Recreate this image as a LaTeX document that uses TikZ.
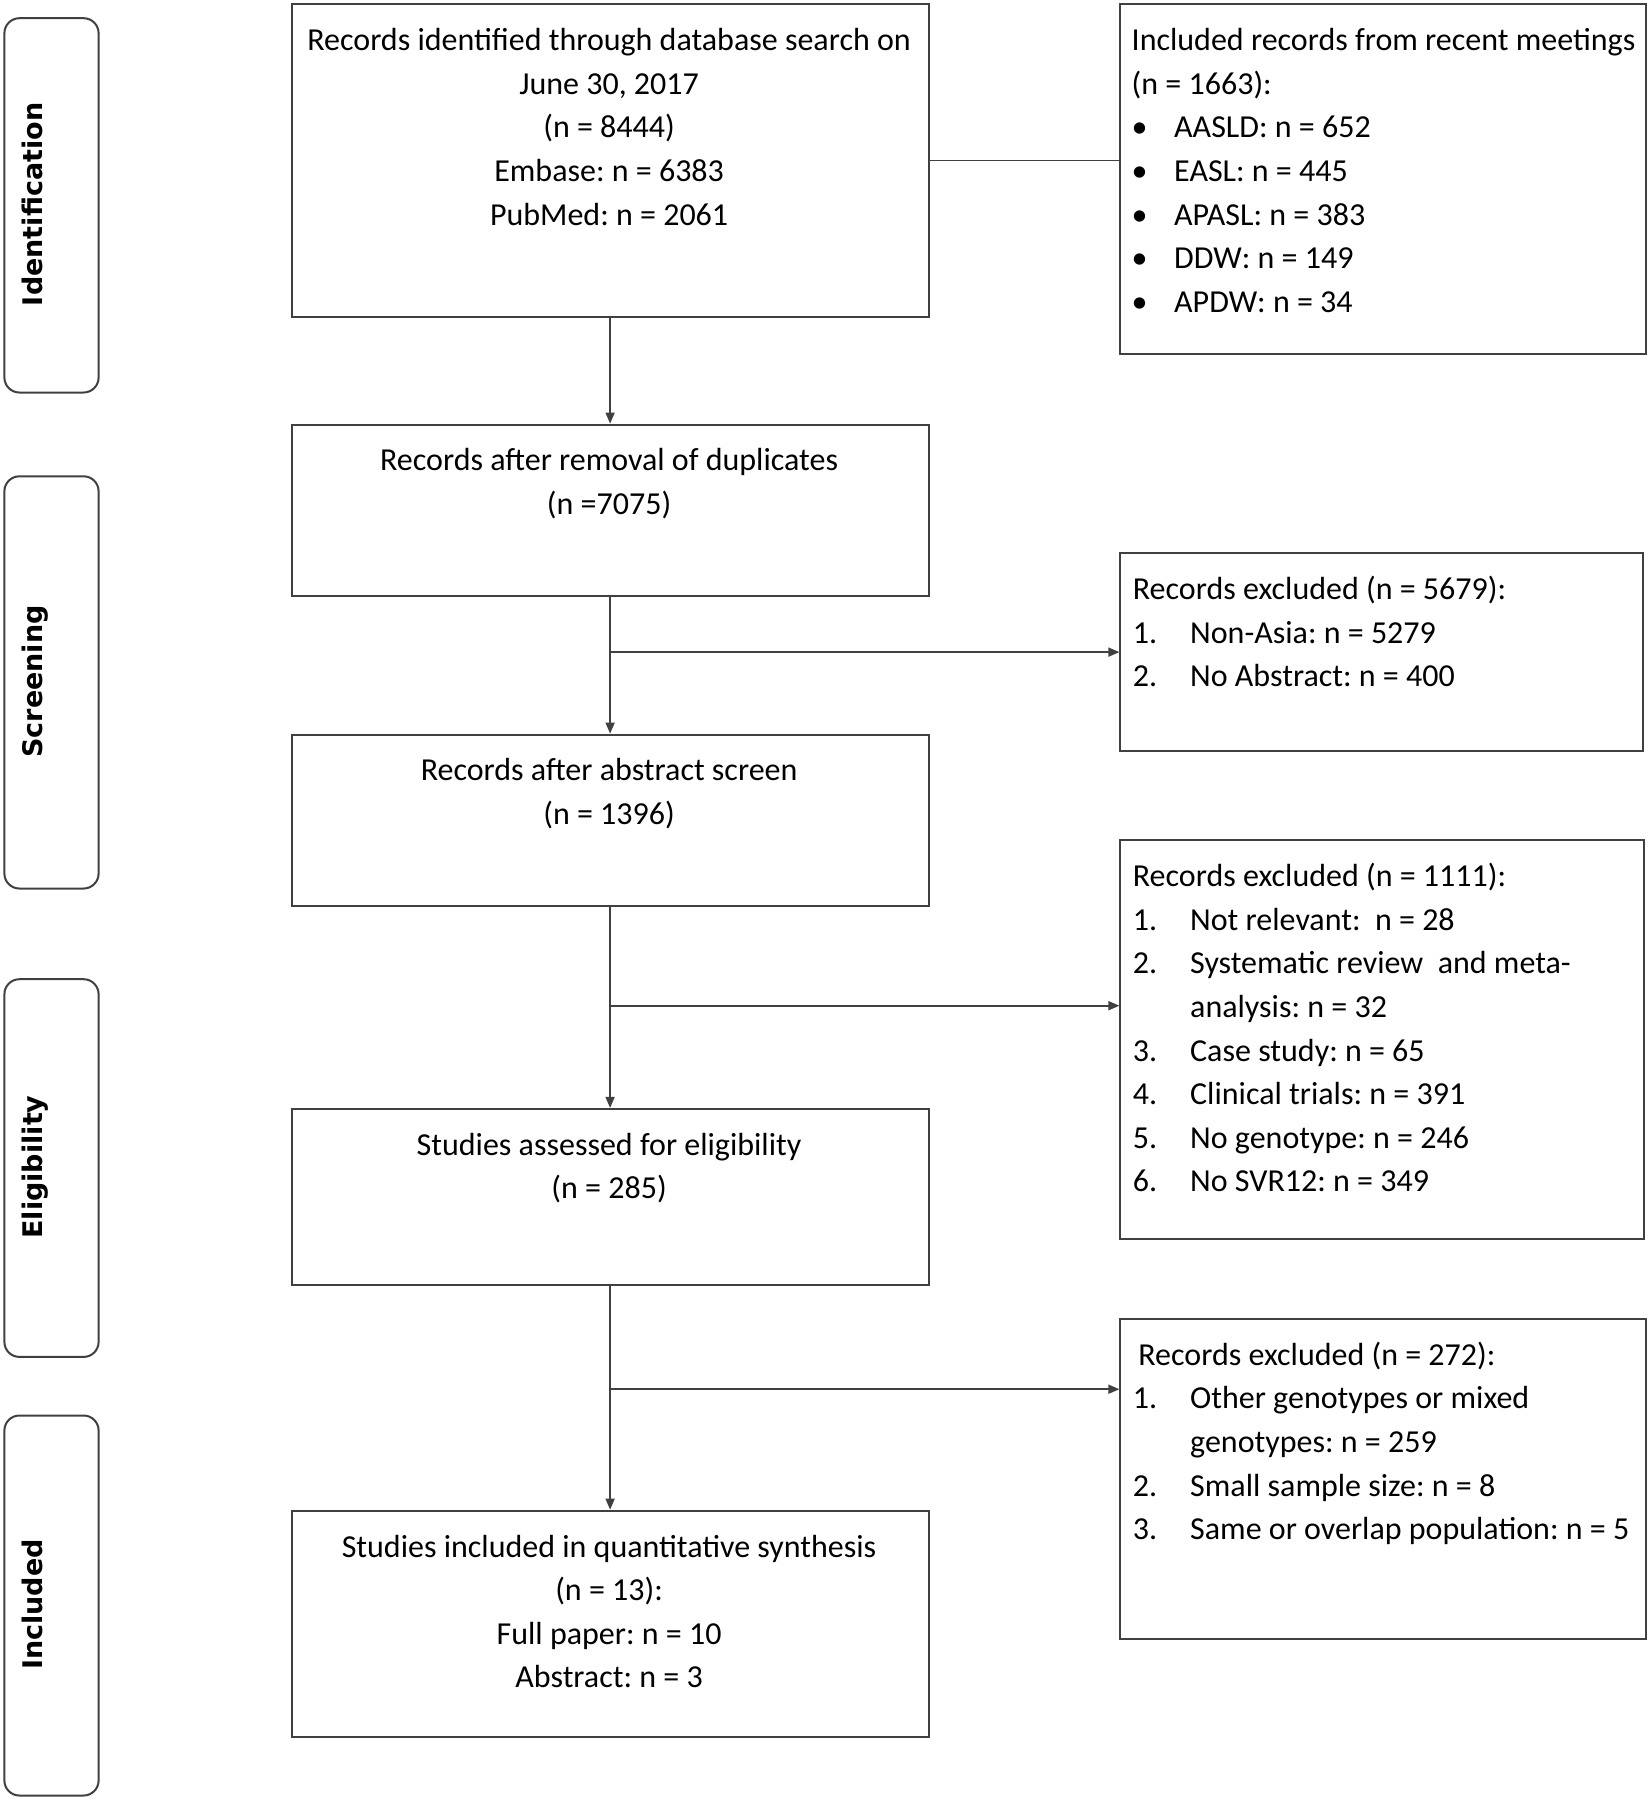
\documentclass[tikz,border=0pt]{standalone}
\usepackage{fontspec}
\setmainfont{Carlito}
\newfontfamily\sidefont{DejaVu Sans}
\usetikzlibrary{arrows.meta}
\definecolor{lc}{HTML}{404040}
\newcommand\bodyfont{\fontsize{32}{43.6}\selectfont\frenchspacing}
\newcommand\sidelabelfont{\sidefont\bfseries\fontsize{27}{30}\selectfont}
\begin{document}
\begin{tikzpicture}[x=1pt,y=-1pt,
  box/.style={draw=lc, line width=2pt, rectangle, inner sep=0pt, anchor=north west},
  side/.style={draw=lc, line width=2pt, rounded corners=15pt, inner sep=0pt, anchor=north west, minimum width=94.2pt},
  ctext/.style={inner sep=0pt, anchor=base, font=\bodyfont},
  ltext/.style={inner sep=0pt, anchor=base west, font=\bodyfont},
  slabel/.style={inner sep=0pt, anchor=base, rotate=90, font=\sidelabelfont},
  arr/.style={draw=lc, line width=1.6pt, -{Triangle[length=11pt,width=9pt]}},
  ln/.style={draw=lc, line width=1.6pt}]
\useasboundingbox (0,0) rectangle (1651,1800);
% side phase boxes
\node[side, minimum height=374.3pt] (sid) at (3.4,17.2) {};
\node[side, minimum height=412.2pt] (sscr) at (3.4,475.3) {};
\node[side, minimum height=377.7pt] (selig) at (3.4,978.2) {};
\node[side, minimum height=380pt] (sinc) at (3.4,1414.5) {};
\node[slabel] (lid) at (42.5,204.4) {Identification};
\node[slabel] (lscr) at (42.5,681.4) {Screening};
\node[slabel] (lelig) at (42.5,1167) {Eligibility};
\node[slabel] (linc) at (42.5,1604.5) {Included};
% main boxes
\node[box, minimum width=637.2pt, minimum height=312.3pt] (b1) at (290.5,3.4) {};
\node[box, minimum width=637.2pt, minimum height=171.1pt] (b2) at (290.5,423.6) {};
\node[box, minimum width=637.2pt, minimum height=171.1pt] (b3) at (290.5,733.6) {};
\node[box, minimum width=637.2pt, minimum height=175.7pt] (b4) at (290.5,1107.9) {};
\node[box, minimum width=637.2pt, minimum height=226.2pt] (b5) at (290.5,1509.7) {};
% right boxes
\node[box, minimum width=525.8pt, minimum height=349.1pt] (r1) at (1119.4,3.4) {};
\node[box, minimum width=522.4pt, minimum height=197.5pt] (r2) at (1119.4,552.2) {};
\node[box, minimum width=523.6pt, minimum height=398.4pt] (r3) at (1119.4,839.3) {};
\node[box, minimum width=525.8pt, minimum height=320.4pt] (r4) at (1119.4,1318) {};
% main texts
\node[ctext] (t1) at (609.1,50.7) {\begin{tabular}[t]{@{}c@{}}Records identified through database search on\\ June 30, 2017\\ (n = 8444)\\ Embase: n = 6383\\ PubMed: n = 2061\end{tabular}};
\node[ctext] (t2) at (609.1,470.9) {\begin{tabular}[t]{@{}c@{}}Records after removal of duplicates\\ (n =7075)\end{tabular}};
\node[ctext] (t3) at (609.1,780.9) {\begin{tabular}[t]{@{}c@{}}Records after abstract screen\\ (n = 1396)\end{tabular}};
\node[ctext] (t4) at (609.1,1155.2) {\begin{tabular}[t]{@{}c@{}}Studies assessed for eligibility\\ (n = 285)\end{tabular}};
\node[ctext] (t5) at (609.1,1557) {\begin{tabular}[t]{@{}c@{}}Studies included in quantitative synthesis\\ (n = 13):\\ Full paper: n = 10\\ Abstract: n = 3\end{tabular}};
% right texts
\node[ltext] (u1) at (1131.5,50.7) {\begin{tabular}[t]{@{}p{42.5pt}@{}l@{}}
\multicolumn{2}{@{}l@{}}{Included records from recent meetings}\\
\multicolumn{2}{@{}l@{}}{(n = 1663):}\\
\textbullet & AASLD: n = 652\\
\textbullet & EASL: n = 445\\
\textbullet & APASL: n = 383\\
\textbullet & DDW: n = 149\\
\textbullet & APDW: n = 34
\end{tabular}};
\node[ltext] (u2) at (1132.7,599.5) {\begin{tabular}[t]{@{}p{57.3pt}@{}l@{}}
\multicolumn{2}{@{}l@{}}{Records excluded (n = 5679):}\\
1. & Non-Asia: n = 5279\\
2. & No Abstract: n = 400
\end{tabular}};
\node[ltext] (u3) at (1132.7,886.6) {\begin{tabular}[t]{@{}p{57.3pt}@{}l@{}}
\multicolumn{2}{@{}l@{}}{Records excluded (n = 1111):}\\
1. & Not relevant:\ \ n = 28\\
2. & Systematic review\ \ and meta-\\
 & analysis: n = 32\\
3. & Case study: n = 65\\
4. & Clinical trials: n = 391\\
5. & No genotype: n = 246\\
6. & No SVR12: n = 349
\end{tabular}};
\node[ltext] (u4) at (1132.7,1365.3) {\begin{tabular}[t]{@{}p{57.3pt}@{}l@{}}
\multicolumn{2}{@{}l@{}}{\hspace{5.5pt}Records excluded (n = 272):}\\
1. & Other genotypes or mixed\\
 & genotypes: n = 259\\
2. & Small sample size: n = 8\\
3. & Same or overlap population: n = 5
\end{tabular}};
% connectors
\coordinate (j2) at (609.1,652.1);
\coordinate (j3) at (609.1,1005.7);
\coordinate (j4) at (609.1,1389.2);
\draw[arr] (b1.south) -- (b2.north);
\draw[arr] (b2.south) -- (b3.north);
\draw[arr] (b3.south) -- (b4.north);
\draw[arr] (b4.south) -- (b5.north);
\draw[ln] (b1.east) -- (b1.east -| r1.west);
\draw[arr] (j2) -- (j2 -| r2.west);
\draw[arr] (j3) -- (j3 -| r3.west);
\draw[arr] (j4) -- (j4 -| r4.west);
\end{tikzpicture}
\end{document}
